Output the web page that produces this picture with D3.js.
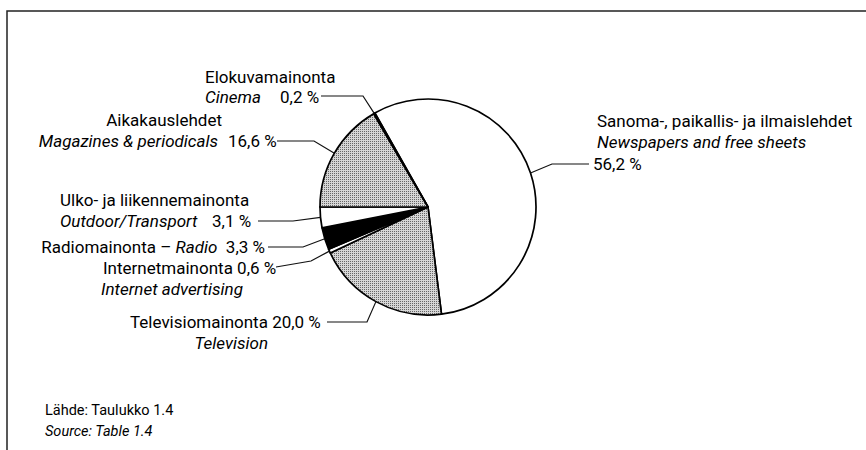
<!DOCTYPE html>
<html>
<head>
<meta charset="utf-8">
<script src="https://cdn.jsdelivr.net/npm/d3@7"></script>
<style>
  body { margin: 0; background: #fff; }
  svg { display: block; }
  text { font-family: Roboto, "Liberation Sans", sans-serif; fill: #000; }
  .lbl { font-size: 17px; }
  .src { font-size: 14.5px; }
  .it { font-style: italic; }
</style>
</head>
<body>
<svg id="chart"></svg>
<script>
// shares of media advertising, clockwise from the top
var categories = ["Sanoma-, paikallis- ja ilmaislehdet", "Televisiomainonta", "Internetmainonta",
                  "Radiomainonta", "Ulko- ja liikennemainonta", "Aikakauslehdet", "Elokuvamainonta"];
var categoriesEn = ["Newspapers and free sheets", "Television", "Internet advertising",
                    "Radio", "Outdoor/Transport", "Magazines & periodicals", "Cinema"];
var shares = [56.2, 20.0, 0.6, 3.3, 3.1, 16.6, 0.2];
var sourceLines = ["Lähde: Taulukko 1.4", "Source: Table 1.4"];

var width = 866, height = 450;
var cx = 428, cy = 207, r = 108;

var fills = ["#fff", "url(#dots)", "#fff", "#000", "#fff", "url(#dots)", "#000"];

// label layout: leader start and elbow
var layout = [
  {lead: [[589, 164], [552, 164]]},
  {lead: [[327, 322], [367, 322]]},
  {lead: [[276, 267], [311, 261]]},
  {lead: [[268, 247], [303, 247]]},
  {lead: [[258, 221], [293, 221]]},
  {lead: [[277, 141], [314, 141]]},
  {lead: [[321, 96], [363, 96]]}
];

var fi = d3.formatLocale({decimal: ",", thousands: " ", grouping: [3], currency: ["", ""]});
var pct = function(v) { return fi.format(".1f")(v) + " %"; };

var svg = d3.select("#chart").attr("width", width).attr("height", height);

// halftone look of the printed grey
var pat = svg.append("defs").append("pattern").attr("id", "dots")
  .attr("patternUnits", "userSpaceOnUse").attr("width", 2).attr("height", 2);
pat.append("rect").attr("width", 2).attr("height", 2).attr("fill", "#d6d6d6");
pat.append("rect").attr("width", 1).attr("height", 1).attr("fill", "#666");

// frame
svg.append("path").attr("d", "M7," + height + "V11H" + width)
  .attr("fill", "none").attr("stroke", "#222").attr("stroke-width", 1.5);

var start = -29.5 * Math.PI / 180;
var pie = d3.pie().sort(null).value(function(d) { return d; })
  .startAngle(start).endAngle(start + 2 * Math.PI);
var arcs = pie(shares);
var arc = d3.arc().innerRadius(0).outerRadius(r);
var rim = d3.arc().innerRadius(r).outerRadius(r);

var g = svg.append("g").attr("transform", "translate(" + cx + "," + cy + ")");
g.selectAll("path.slice").data(arcs).enter().append("path")
  .attr("class", "slice")
  .attr("d", arc)
  .attr("fill", function(d, i) { return fills[i]; })
  .attr("stroke", "#000")
  .attr("stroke-width", 1.7)
  .attr("stroke-linejoin", "round");

// leader lines
var line = d3.line();
arcs.forEach(function(d, i) {
  var p = rim.centroid(d);
  var pts = layout[i].lead.concat([[p[0] + cx, p[1] + cy]]);
  svg.append("path").attr("d", line(pts))
    .attr("fill", "none").attr("stroke", "#111").attr("stroke-width", 1.2);
});

function txt(x, y, cls, anchor) {
  return svg.append("text").attr("x", x).attr("y", y)
    .attr("class", "lbl " + (cls || "")).attr("text-anchor", anchor || "start");
}

// newspapers
txt(597, 127).text(categories[0]);
txt(597, 148, "it").text(categoriesEn[0]);
txt(593, 170).text(pct(shares[0]));

// television
txt(130, 328).text(categories[1] + " " + pct(shares[1]));
txt(268, 349, "it", "end").text(categoriesEn[1]);

// internet
txt(103, 274).text(categories[2] + " " + pct(shares[2]));
txt(101, 295, "it").text(categoriesEn[2]);

// radio
var t3 = txt(265, 253, "", "end");
t3.append("tspan").text(categories[3] + " – ");
t3.append("tspan").attr("class", "it").text(categoriesEn[3]);
t3.append("tspan").text("\u00a0\u00a0" + pct(shares[3]));

// outdoor
txt(60, 206).text(categories[4]);
txt(60, 227, "it").text(categoriesEn[4]);
txt(212, 227).text(pct(shares[4]));

// magazines
txt(222, 126, "", "end").text(categories[5]);
txt(218, 147, "it", "end").text(categoriesEn[5]);
txt(228, 147).text(pct(shares[5]));

// cinema
txt(205, 83).text(categories[6]);
txt(205, 103, "it").text(categoriesEn[6]);
txt(280, 103).text(pct(shares[6]));

// source
svg.append("text").attr("class", "src").attr("x", 45).attr("y", 415).text(sourceLines[0]);
svg.append("text").attr("class", "src it").attr("x", 45).attr("y", 436).text(sourceLines[1]);
</script>
</body>
</html>
